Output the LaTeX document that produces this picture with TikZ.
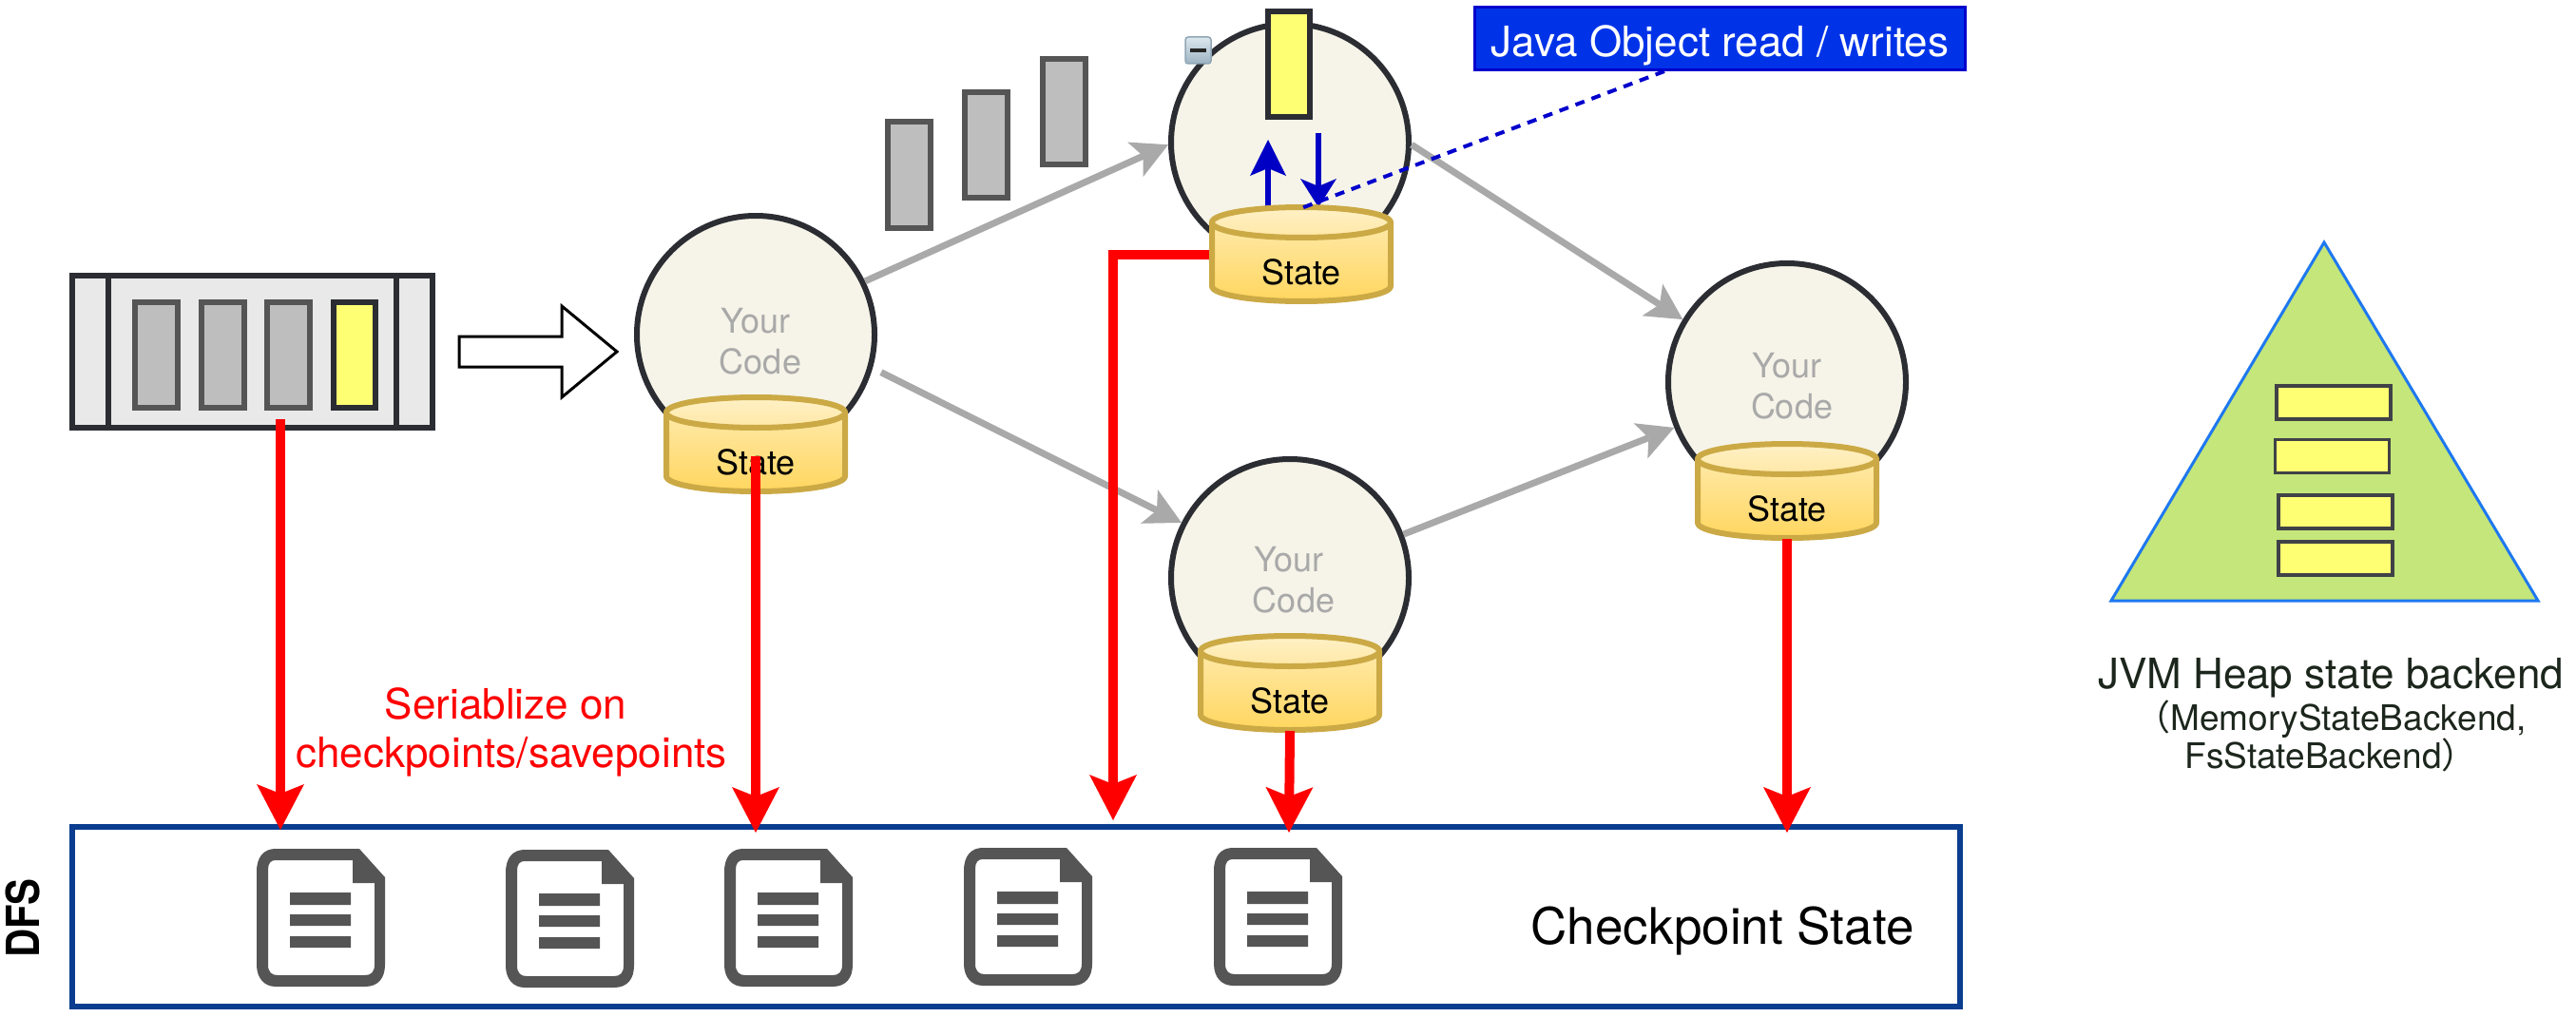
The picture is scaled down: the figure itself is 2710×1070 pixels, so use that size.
\documentclass[tikz,border=0pt]{standalone}
\usepackage{fontspec}
\setmainfont{TeX Gyre Heros}
\newfontfamily\cjkparen{Noto Sans CJK SC}
\usetikzlibrary{arrows.meta,calc}
\definecolor{ringdark}{HTML}{2B2D33}
\definecolor{ringfill}{HTML}{F6F4E8}
\definecolor{codegray}{HTML}{A9A9A9}
\definecolor{cylline}{HTML}{CBA945}
\definecolor{cyltopa}{HTML}{FFF1C6}
\definecolor{cyltopb}{HTML}{FFE8A6}
\definecolor{cylbodya}{HTML}{FFE9A8}
\definecolor{cylbodyb}{HTML}{FFD65F}
\definecolor{recgray}{HTML}{BEBEBE}
\definecolor{recline}{HTML}{555555}
\definecolor{recyellow}{HTML}{FFFF73}
\definecolor{queuefill}{HTML}{E9E9E9}
\definecolor{dfsblue}{HTML}{0A3D8F}
\definecolor{jboxfill}{HTML}{0033E8}
\definecolor{jboxline}{HTML}{0000CC}
\definecolor{rwblue}{HTML}{0000C4}
\definecolor{docgray}{HTML}{555555}
\definecolor{heapgreen}{HTML}{C4E67A}
\definecolor{heapline}{HTML}{1E78F0}
\definecolor{heaptext}{HTML}{1C261C}
\definecolor{iconline}{HTML}{8FA6B5}
\definecolor{icontop}{HTML}{DDE8EE}
\definecolor{iconbot}{HTML}{9DB3C2}
\tikzset{
  ring/.style={circle,draw=ringdark,fill=ringfill,line width=6pt,minimum size=250pt,inner sep=0pt},
  codetxt/.style={text=codegray,align=center,inner sep=0pt,font=\fontsize{36}{43}\selectfont},
  statetxt/.style={text=black,inner sep=0pt,font=\fontsize{36}{43}\selectfont},
  cylb/.style={draw=cylline,line width=6pt,top color=cylbodya,bottom color=cylbodyb,line join=round},
  cylt/.style={draw=cylline,line width=6pt,top color=cyltopa,bottom color=cyltopb},
  msggray/.style={rectangle,draw=recline,fill=recgray,line width=6pt,minimum width=45pt,minimum height=111pt,inner sep=0pt},
  msgyellow/.style={rectangle,draw=ringdark,fill=recyellow,line width=6pt,minimum width=44pt,minimum height=111pt,inner sep=0pt},
  heaprec/.style={rectangle,draw=ringdark!90,fill=recyellow,line width=3.5pt,minimum width=120pt,minimum height=35pt,inner sep=0pt},
  grayarrow/.style={draw=codegray,line width=7pt,-{Stealth[length=38pt,width=40pt,inset=9pt,line width=0pt]}},
  redarrow/.style={draw=red,line width=10pt,-{Stealth[length=48pt,width=50pt,inset=10pt,line width=0pt]}},
  bluearrow/.style={draw=rwblue,line width=6pt},
  doc/.style={fill=docgray,even odd rule}
}
\newcommand{\statecyl}[3]{%
  \begin{scope}[shift={(#2,#3)}]
    \path[cylb] (-94,19) -- (-94,86) .. controls (-94,95) and (-52,102) .. (0,102)
      .. controls (52,102) and (94,95) .. (94,86) -- (94,19) -- cycle;
    \path[cylt] (-94,19) .. controls (-94,10) and (-52,3) .. (0,3)
      .. controls (52,3) and (94,10) .. (94,19)
      .. controls (94,28) and (52,35) .. (0,35)
      .. controls (-52,35) and (-94,28) .. (-94,19) -- cycle;
    \node[statetxt] (#1) at (0,71) {State};
    \coordinate (#1-t) at (0,65);
    \coordinate (#1-b) at (0,103);
    \coordinate (#1-top) at (0,4);
    \coordinate (#1-l) at (-97,53);
  \end{scope}}
\newcommand{\docicon}[2]{%
  \begin{scope}[shift={(#1,#2)}]
    \path[doc] (0,24) .. controls (0,8) and (8,0) .. (20,0) -- (108,0) -- (135,30) -- (135,122)
      .. controls (135,136) and (128,145) .. (114,145) -- (20,145)
      .. controls (8,145) and (0,136) .. (0,122) -- cycle
      (20,12) .. controls (15,12) and (12,15) .. (12,22) -- (12,122)
      .. controls (12,130) and (16,133) .. (22,133) -- (114,133)
      .. controls (120,133) and (124,130) .. (124,122) -- (124,36) -- (101,36) -- (101,12) -- cycle;
    \fill[docgray] (35,46) rectangle (99,59) (35,69) rectangle (99,81) (35,92) rectangle (99,104);
  \end{scope}}
\begin{document}
\begin{tikzpicture}[x=1pt,y=-1pt]
\useasboundingbox[fill=white] (0,0) rectangle (2710,1070);

% input queue
\node[rectangle,draw=ringdark,fill=queuefill,line width=6pt,minimum width=379pt,minimum height=160pt,inner sep=0pt] (q) at (265.5,370) {};
\draw[draw=ringdark,line width=6pt] (q.north -| 114,0) -- (q.south -| 114,0);
\draw[draw=ringdark,line width=6pt] (q.north -| 417,0) -- (q.south -| 417,0);
\node[msggray] (qa) at (164.5,373.5) {};
\node[msggray] (qb) at (234,373.5) {};
\node[msggray] (qc) at (303,373.5) {};
\node[msgyellow] (qd) at (373,373.5) {};
\coordinate (qout) at (295,441);

% hollow arrow
\draw[line width=3pt,draw=black,fill=white,line join=miter] (483,354) -- (591,354) -- (591,322) -- (649,370) -- (591,418) -- (591,386) -- (483,386) -- cycle;

% operators
\node[ring] (c1) at (795,352) {};
\node[ring] (c2) at (1357,150) {};
\node[ring] (c3) at (1357,608) {};
\node[ring] (c4) at (1880,402) {};
\node[codetxt] (t1) at (800,359) {Your\hspace*{10pt}\\Code};
\node[codetxt] (t3) at (1361,610) {Your\hspace*{10pt}\\Code};
\node[codetxt] (t4) at (1885,406) {Your\hspace*{10pt}\\Code};

% in-flight records
\node[msggray] (ma) at (956,184) {};
\node[msggray] (mb) at (1037.5,152.5) {};
\node[msggray] (mc) at (1119.5,118) {};
\node[msgyellow] (md) at (1356,67.5) {};

% collapse icon
\draw[draw=iconline,line width=1.5pt,rounded corners=3pt,top color=icontop,bottom color=iconbot] (1247,39) rectangle (1274,67);
\fill[black!85] (1252,51) rectangle (1269,55);

% stream edges
\draw[grayarrow] (c1.26) -- (c2.181);
\draw[grayarrow,shorten <=10pt] (c1.-16) -- (c3.153);
\draw[grayarrow] (c2.-1) -- (c4.149);
\draw[grayarrow] (c3.21) -- (c4.202);

% read/write arrows
\coordinate (upstart) at (1334,218);
\coordinate (uptip) at (1334,147);
\coordinate (dnstart) at (1387,140);
\coordinate (dntip) at (1387,218);
\draw[bluearrow,-{Stealth[length=38pt,width=38pt,inset=8pt,line width=0pt]}] (upstart) -- (uptip);
\draw[bluearrow,-{Stealth[length=30pt,width=38pt,inset=8pt,line width=0pt]}] (dnstart) -- (dntip);

% state stores
\statecyl{s1}{795}{415}
\statecyl{s2}{1369}{215}
\statecyl{s3}{1357}{666}
\statecyl{s4}{1880}{464}

% label
\node[rectangle,draw=jboxline,fill=jboxfill,line width=3pt,minimum width=516pt,minimum height=66pt,inner sep=0pt,text=white,text height=43pt,text depth=4pt,font=\fontsize{44}{50}\selectfont] (jb) at (1809.5,40.5) {Java Object read / writes};
\coordinate (jbout) at (1751,75);
\draw[draw=jboxline,line width=4pt,dash pattern=on 10pt off 8pt] (jbout) -- (s2-top);

% DFS box
\node[rectangle,draw=dfsblue,line width=6.5pt,minimum width=1986pt,minimum height=189pt,inner sep=0pt] (dfs) at (1069,964.5) {};
\docicon{270}{893}
\docicon{532}{894}
\docicon{762}{893}
\docicon{1014}{892}
\docicon{1277}{892}
\node[inner sep=0pt,font=\fontsize{53}{60}\selectfont] (cps) at (1812,979) {Checkpoint State};
\node[inner sep=0pt,rotate=90,font=\bfseries\fontsize{48}{50}\selectfont] (dfsl) at (24,966) {\scalebox{.87}[1]{DFS}};

% checkpoint arrows
\coordinate (e1) at (295,873);
\coordinate (e2) at (795,876);
\coordinate (e3) at (1171,863);
\coordinate (e4) at (1356,876);
\coordinate (e5) at (1880,876);
\draw[redarrow] (qout) -- (e1);
\draw[redarrow] (s1-t) -- (e2);
\draw[redarrow,line join=miter] (s2-l) -| (e3);
\draw[redarrow] (s3-b) -- (e4);
\draw[redarrow] (s4-b) -- (e5);
\node[text=red,align=center,inner sep=0pt,font=\fontsize{44}{51}\selectfont] (ser) at (538,770) {Seriablize on\hspace*{12pt}\\checkpoints/savepoints};

% heap triangle
\draw[draw=heapline,fill=heapgreen,line width=3pt,line join=miter] (2445,255) -- (2670,632) -- (2221,632) -- cycle;
\node[heaprec] (h1) at (2455,423.5) {};
\node[heaprec] (h2) at (2453.5,480) {};
\node[heaprec] (h3) at (2457,538.5) {};
\node[heaprec] (h4) at (2457,587.5) {};
\node[text=heaptext,align=center,inner sep=0pt] (heapl) at (2452,752) {%
  \fontsize{44}{50}\selectfont JVM Heap state backend\\[2pt]
  \fontsize{37}{50}\selectfont{\cjkparen （}MemoryStateBackend,\\[-1pt]
  \fontsize{37}{50}\selectfont FsStateBackend{\cjkparen ）}};
\end{tikzpicture}
\end{document}
